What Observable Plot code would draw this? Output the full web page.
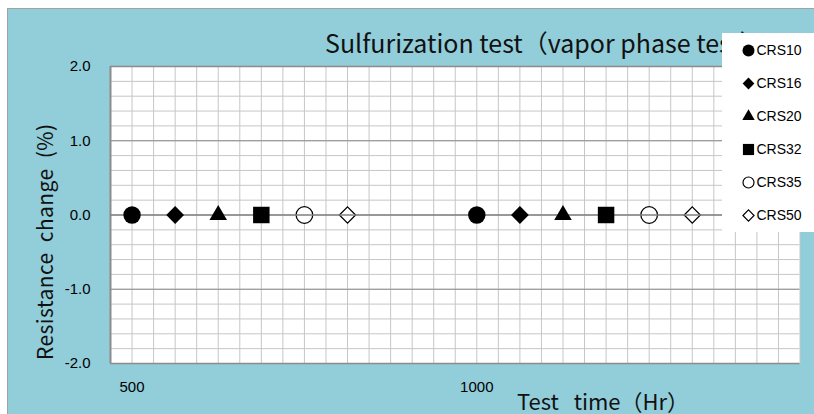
<!DOCTYPE html>
<html>
<head>
<meta charset="utf-8">
<script src="https://cdn.jsdelivr.net/npm/d3@7"></script>
<script src="https://cdn.jsdelivr.net/npm/@observablehq/plot@0.6"></script>
<style>
  html, body { margin: 0; padding: 0; background: #ffffff; }
  #wrap { position: relative; width: 814px; height: 414px; overflow: hidden; }
  #bg { position: absolute; left: 7px; top: 8px; width: 820px; height: 420px;
        background: #92CDDA; border-left: 1.5px solid #a3a3a3; border-top: 1.5px solid #a3a3a3; }
  #main { position: absolute; left: 0; top: 0; }
  #legend { position: absolute; left: 722px; top: 33px; background: #ffffff; line-height: 0; }
  text.lbl { font-family: "Noto Sans CJK JP", "Noto Sans", sans-serif; fill: #111; white-space: pre; }
</style>
</head>
<body>
<div id="wrap"><div id="bg"></div><div id="main"></div><div id="legend"></div></div>
<script>
// ---- data ----
const seriesNames = ["CRS10", "CRS16", "CRS20", "CRS32", "CRS35", "CRS50"];
const testTimes = [500, 1000];           // Hr
const crs10 = [0.0, 0.0];                // resistance change (%)
const crs16 = [0.0, 0.0];
const crs20 = [0.0, 0.0];
const crs32 = [0.0, 0.0];
const crs35 = [0.0, 0.0];
const crs50 = [0.0, 0.0];
const xTickLabels = [500, 1000];
const yTickLabels = [-2, -1, 0, 1, 2];
const titleText = "Sulfurization test（vapor phase test）";
const xLabelText = "Test   time（Hr）";
const yLabelText = "Resistance  change  (%)";

const seriesValues = [crs10, crs16, crs20, crs32, crs35, crs50];

// ---- styles (not data) ----
const markStyle = {
  CRS10: {symbol: "circle",   r: 8.7, lr: 6.0, open: false},
  CRS16: {symbol: "diamond2", r: 8.0, lr: 5.3, open: false},
  CRS20: {symbol: "triangle", r: 6.5, lr: 4.6, open: false},
  CRS32: {symbol: "square",   r: 9.3, lr: 6.3, open: false},
  CRS35: {symbol: "circle",   r: 8.3, lr: 5.5, open: true},
  CRS50: {symbol: "diamond2", r: 7.3, lr: 5.0, open: true}
};
const dodgeHr = 62.5;   // horizontal dodge between series within a time group
const xMin = 468.75, xMax = 1468.75, xStep = 31.25;

const rows = seriesNames.flatMap((s, i) =>
  testTimes.map((t, j) => ({series: s, idx: i, time: t, value: seriesValues[i][j]})));

const xGrid = d3.range(xMin, xMax + 0.001, xStep);
const yMinor = d3.range(-10, 11, 1).map(k => k / 5);

function dots(open) {
  return seriesNames.filter(s => markStyle[s].open === open).map(s =>
    Plot.dot(rows.filter(d => d.series === s), {
      x: d => d.time + d.idx * dodgeHr,
      y: "value",
      symbol: markStyle[s].symbol,
      r: markStyle[s].r,
      fill: open ? "white" : "black",
      stroke: open ? "black" : "none",
      strokeWidth: 1.3
    }));
}

const chart = Plot.plot({
  width: 814, height: 414,
  marginLeft: 110, marginRight: 14.5, marginTop: 66, marginBottom: 51,
  x: {domain: [xMin, xMax]},
  y: {domain: [-2, 2]},
  style: {background: "transparent", fontFamily: "Liberation Sans", fontSize: "15px", color: "#000"},
  marks: [
    Plot.frame({fill: "white", stroke: null}),
    Plot.gridX(xGrid, {stroke: "#c6c6c6", strokeOpacity: 1}),
    Plot.gridY(yMinor, {stroke: "#c6c6c6", strokeOpacity: 1}),
    Plot.gridY([-1, 1], {stroke: "#8e8e8e", strokeOpacity: 1}),
    Plot.ruleY([2, -2], {stroke: "#8c8c8c", strokeWidth: 1.5}),
    Plot.ruleX([xMin], {stroke: "#8c8c8c", strokeWidth: 2}),
    ...dots(true),
    Plot.ruleY([0], {stroke: "#7f7f7f", strokeWidth: 1.5}),
    ...dots(false),
    Plot.axisX(xTickLabels, {tickSize: 0, tickPadding: 18, label: null, fontSize: 15,
                             tickFormat: d => String(d)}),
    Plot.axisY(yTickLabels, {tickSize: 0, tickPadding: 20, label: null, fontSize: 15,
                             tickFormat: d => d.toFixed(1)})
  ]
});
document.getElementById("main").appendChild(chart);

const svg = d3.select(chart);
svg.append("text").attr("class", "lbl").attr("x", 325).attr("y", 52.5)
   .attr("text-anchor", "start").attr("font-size", 25).text(titleText);
svg.append("text").attr("class", "lbl").attr("x", 517).attr("y", 409.5)
   .attr("text-anchor", "start").attr("font-size", 22).text(xLabelText);
svg.append("text").attr("class", "lbl")
   .attr("transform", "translate(53,360) rotate(-90)").attr("text-anchor", "start")
   .attr("font-size", 21).attr("textLength", 236).attr("lengthAdjust", "spacing")
   .text(yLabelText);

// ---- legend ----
const legend = Plot.plot({
  width: 92, height: 199,
  margin: 0,
  y: {type: "point", domain: seriesNames, range: [17, 182.5], padding: 0},
  style: {background: "white", fontFamily: "Liberation Sans", fontSize: "14px", color: "#000"},
  marks: [
    ...seriesNames.map(s => Plot.dot([s], {
      y: d => d, frameAnchor: "left", dx: 26,
      symbol: markStyle[s].symbol, r: markStyle[s].lr,
      fill: markStyle[s].open ? "white" : "black",
      stroke: markStyle[s].open ? "black" : "none", strokeWidth: 1.2
    })),
    Plot.text(seriesNames, {y: d => d, text: d => d, frameAnchor: "left", dx: 34, textAnchor: "start"})
  ]
});
document.getElementById("legend").appendChild(legend);
</script>
</body>
</html>
